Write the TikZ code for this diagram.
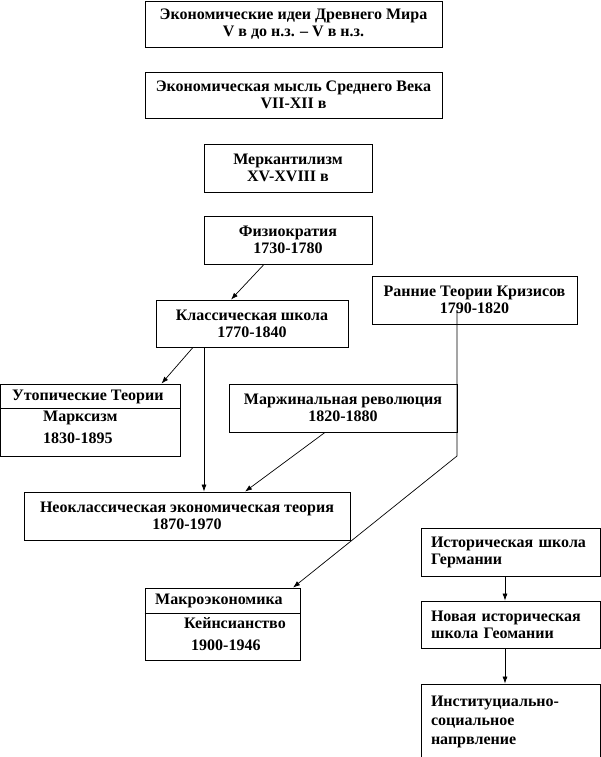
\documentclass[tikz,border=0pt]{standalone}
\usepackage{fontspec}
\setmainfont{Liberation Serif}
\usetikzlibrary{arrows.meta,positioning}

\begin{document}
\begin{tikzpicture}[
  x=1pt, y=-1pt,
  font=\fontsize{16}{17}\selectfont\bfseries,
  box/.style={draw, line width=0.8pt, inner sep=0pt, align=center},
  leftbox/.style={box, align=left, text width=#1, inner xsep=10pt},
  txt/.style={inner sep=0pt, anchor=west},
  arr/.style={-{Latex[length=7pt,width=5pt]}, line width=0.7pt}
]
  \useasboundingbox (0,0) rectangle (601,757);
  % chain of early schools
  \node[box, minimum width=297pt, minimum height=46pt] (anc) at (293.5,24)
    {Экономические идеи Древнего Мира\\V в до н.з. – V в н.з.};
  \node[box, minimum width=297pt, minimum height=46pt] (mid) at (293.5,95)
    {Экономическая мысль Среднего Века\\VII-XII в};
  \node[box, minimum width=168pt, minimum height=48pt] (merc) at (288,168)
    {Меркантилизм\\XV-XVIII в};
  \node[box, minimum width=168pt, minimum height=48pt] (phys) at (288,240)
    {Физиократия\\1730-1780};
  \node[box, minimum width=192pt, minimum height=47pt] (class) at (252,323.5)
    {Классическая школа\\1770-1840};
  \node[box, minimum width=205pt, minimum height=48pt] (crisis) at (474.5,300)
    {Ранние Теории Кризисов\\1790-1820};
  \node[box, minimum width=228pt, minimum height=48pt] (marg) at (343,408)
    {Маржинальная революция\\1820-1880};
  \node[box, minimum width=326pt, minimum height=48pt] (neo) at (187,516)
    {Неоклассическая экономическая теория\\1870-1970};

  % split boxes
  \node[box, minimum width=180pt, minimum height=72pt] (utop) at (90.5,420) {};
  \draw[line width=0.8pt] (utop.west |- 0,408) -- (utop.east |- 0,408);
  \node[txt] (utophead) at (12,397) {Утопические Теории};
  \node[txt] (utopname) at (43,418) {Марксизм};
  \node[txt] (utopyear) at (43,438) {1830-1895};

  \node[box, minimum width=155pt, minimum height=72pt] (macro) at (222.5,624) {};
  \draw[line width=0.8pt] (macro.west |- 0,613) -- (macro.east |- 0,613);
  \node[txt] (macrohead) at (155,601) {Макроэкономика};
  \node[txt] (macroname) at (184,623) {Кейнсианство};
  \node[txt] (macroyear) at (191,645) {1900-1946};

  % historical branch
  \node[leftbox=159pt, minimum height=48pt] (hist) at (510.5,552)
    {Историческая школа\\Германии};
  \node[leftbox=159pt, minimum height=47pt] (newh) at (510.5,624.5)
    {Новая историческая\\школа Геомании};
  \node[leftbox=159pt, minimum height=76pt, font=\fontsize{16}{19}\selectfont\bfseries] (inst) at (510.5,722)
    {Институциально-\\социальное\\напрвление};

  % connectors
  \draw[arr] ([xshift=-24pt]phys.south) -- ([xshift=-21pt]class.north);
  \draw[arr] ([xshift=-59pt]class.south) -- ([xshift=71pt]utop.north);
  \draw[arr] ([xshift=-48pt]class.south) -- ([xshift=-48pt]class.south |- neo.north);
  \draw[arr] ([xshift=-18pt]marg.south) -- ([xshift=58pt]neo.north);
  \coordinate (crisisfoot) at ([xshift=-17.5pt,yshift=-10pt]crisis.center);
  \coordinate (kink) at (crisisfoot |- 0,456);
  \draw[arr] (crisisfoot) -- (kink) -- ([xshift=70.5pt]macro.north);
  \draw[arr] ([xshift=-5.5pt]hist.south) -- ([xshift=-5.5pt]newh.north);
  \draw[arr] ([xshift=-5.5pt]newh.south) -- ([xshift=-5.5pt]inst.north);
\end{tikzpicture}
\end{document}
